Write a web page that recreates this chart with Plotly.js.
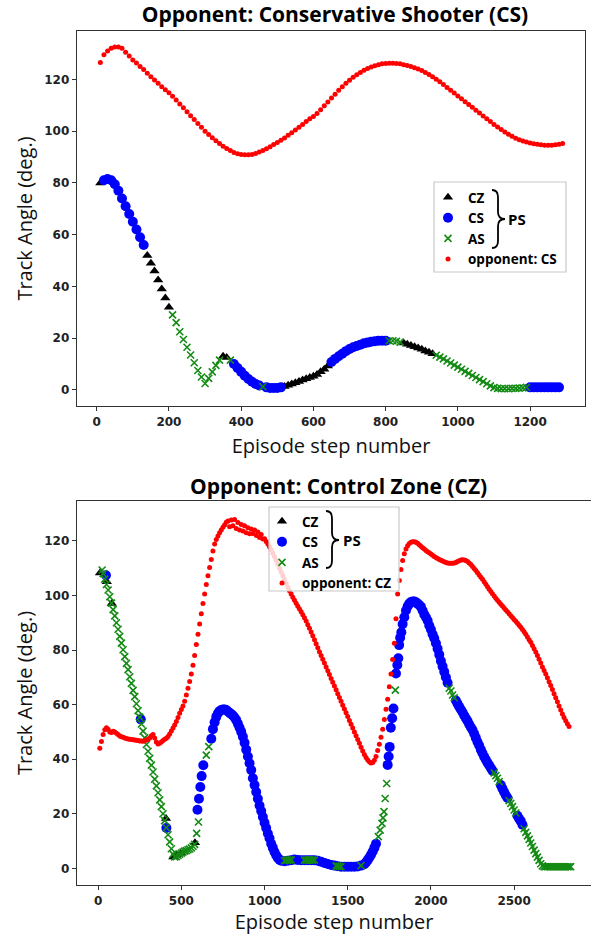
<!DOCTYPE html>
<html>
<head>
<meta charset="utf-8">
<script src="https://cdn.plot.ly/plotly-3.0.1.min.js"></script>
<style>html,body{margin:0;padding:0;background:#fff;}#chart{width:591px;height:937px;}</style>
</head>
<body>
<div id="chart"></div>
<script>
// ---------------- DATA ----------------
// Top panel: opponent Conservative Shooter (CS)
const topTitle = 'Opponent: Conservative Shooter (CS)';
const topOppName = 'opponent: CS';
const topOppStart = 10, topOppStep = 10;
const topOppY = [126.5,129.5,131,132,132.5,132.5,132,130.5,129,127.5,
 126.3,125,123.8,122.4,121,119.8,118.5,117.2,116,114.8,
 113.5,112,110.5,109,107.5,106,104.5,103,101.5,100,
 98.7,97.5,96.3,95.2,94.2,93.3,92.5,91.8,91.3,91,
 90.9,90.9,91,91.4,91.9,92.5,93.2,94,94.8,95.6,
 96.5,97.4,98.4,99.4,100.4,101.5,102.6,103.7,104.8,105.7,
 106.8,108.3,109.8,111.3,112.8,114.3,115.8,117.2,118.5,119.7,
 120.8,121.8,122.7,123.5,124.2,124.8,125.3,125.7,126,126.1,
 126.2,126.2,126.1,126,125.7,125.4,125,124.5,124,123.4,
 122.7,121.9,121,120.1,119.1,118,116.9,115.8,114.7,113.6,
 112.5,111.4,110.3,109.2,108.1,107,105.9,104.8,103.7,102.6,
 101.6,100.6,99.7,98.8,98,97.3,96.7,96.2,95.8,95.4,
 95.1,94.9,94.7,94.6,94.6,94.6,94.7,94.9,95.2];

const topCZx = [10,140,150,160,170,180,190,200,350,360,520,530,540,550,560,570,580,590,600,610,620,630,640,850,860,870,880,890,900,910,920,930];
const topCZy = [80,52,49,46,42.5,39,35.5,32,13,12.5,1.3,1.8,2.3,2.8,3.3,3.8,4.3,4.8,5.3,6,7,8,9.3,18.1,17.7,17.2,16.7,16.2,15.7,15.1,14.6,14];

const topCSx = [20,30,40,50,60,70,80,90,100,110,120,130,380,390,400,410,420,430,440,450,470,480,490,500,510,650,660,670,680,690,700,710,720,730,740,750,760,770,780,790,800,1200,1210,1220,1230,1240,1250,1260,1270,1280];
const topCSy = [81,81.5,81,79.5,77,74,71,68,65,62,59,56,10,8.5,7,5.5,4.2,3.2,2.3,1.7,1,0.8,0.8,0.8,1,10.8,12,13,14,15,15.8,16.5,17,17.5,18,18.3,18.6,18.8,19,19,19,1,1,1,1,1,1,1,1,1];

const topASx = [210,220,230,240,250,260,270,280,290,300,310,320,330,340,370,460,810,820,830,840,940,950,960,970,980,990,1000,1010,1020,1030,1040,1050,1060,1070,1080,1090,1100,1110,1120,1130,1140,1150,1160,1170,1180,1190];
const topASy = [29,26,22.5,19.5,16.5,13.5,10.5,7.5,5,2.5,4.5,7,9.5,11.5,11.5,1.3,19,19,18.8,18.5,13.4,12.7,12,11.2,10.4,9.6,8.8,8,7.2,6.4,5.6,4.8,4,3.2,2.4,1.6,0.9,0.6,0.5,0.5,0.5,0.6,0.6,0.7,0.8,1];

// Bottom panel: opponent Control Zone (CZ)
const botTitle = 'Opponent: Control Zone (CZ)';
const botOppName = 'opponent: CZ';
const botOppStart = 10, botOppStep = 10;
const botOppY = [44,46.5,49,50.8,51.5,51,50,49.8,50.2,50,
 49.5,49,48.5,48.2,48,47.8,47.6,47.4,47.3,47.2,
 47.1,47,46.9,46.8,46.7,46.7,46.6,46.8,47,47.3,
 47.8,48.6,49,47.8,46.3,45.6,45.8,46.3,46.8,47.3,
 47.7,48.3,49.2,50.3,51.4,52.5,53.8,55.3,56.8,58.2,
 59.5,61.2,63.5,66,68.5,71.2,74.4,78,82,85.8,
 89.5,93.3,97,100.5,104,107.2,110.2,113.2,116.3,118.8,
 120.5,121.8,123,124,125,125.8,126.8,127.3,125.2,127.6,
 125.5,127.8,124.5,126.7,124,126,123.6,125.5,123,124.8,
 122.6,124.3,122.7,124,122,123.2,121.2,122.3,120.7,120.8,
 119.8,118.8,117.8,116.7,115.5,114.2,112.8,111.4,110,108.6,
 107.2,105.8,104.4,103,101.7,100.5,99.3,98.2,97.1,96,
 95,94,92.9,91.8,90.6,89.3,88,86.6,85.2,83.8,
 82.3,80.8,79.4,78,76.6,75.2,73.8,72.4,71,69.6,
 68.2,66.8,65.4,64,62.6,61.2,59.8,58.4,57,55.6,
 54.2,52.8,51.4,50,48.6,47.2,45.8,44.4,43,41.7,
 40.6,39.7,39,38.6,38.8,39.6,41,43.2,45.5,48,
 51,54.5,58.3,62,66.5,71.2,76.5,82.5,91.5,100.5,
 105.5,109.5,112.8,115.3,117,118.2,119,119.5,119.7,119.7,
 119.5,119.1,118.6,118,117.5,117,116.5,116,115.6,115.2,
 114.7,114.3,113.9,113.5,113.2,112.9,112.6,112.3,112.1,111.9,
 111.8,111.8,111.8,111.9,112.1,112.4,112.7,113,113.1,113,
 112.8,112.4,111.9,111.3,110.6,109.9,109.1,108.3,107.5,106.7,
 105.9,105,104.1,103.2,102.3,101.4,100.6,99.8,99,98.2,
 97.5,96.8,96.1,95.4,94.7,94,93.3,92.6,91.9,91.2,
 90.5,89.8,89.1,88.3,87.5,86.7,85.8,84.8,83.8,82.8,
 81.7,80.5,79.3,78,76.6,75.2,73.8,72.5,71.2,69.8,
 68.4,67,65.5,64,62.5,61,59.5,58,56.6,55.3,
 54.1,53,52];

const botCZx = [11,52,82,408,452,470,496,582];
const botCZy = [108.2,105,97,18.3,4.2,4.8,5.5,9.4];

const botCSx = [47,256,410,597,606,614,622,632,680,
 690,700,710,720,730,740,750,760,770,780,790,800,810,820,830,840,850,860,870,880,890,900,910,920,930,940,950,960,970,980,990,1000,1010,1020,1030,1040,1050,1060,1070,1080,1090,
 1100,1120,1140,1160,1180,1200,1220,1240,1260,1280,1300,1320,1340,1360,1380,1400,1420,1440,1460,1480,1500,1520,1540,1560,1580,1600,1610,1620,1630,1640,1650,1660,1670,
 1740,1746,1752,1759,1767,1775,1790,1798,1804,1809,1815,1822,1830,1840,1850,1860,1870,1880,1890,1900,1910,1920,1930,1940,1950,1960,1970,1980,1990,2000,2010,2020,2030,2040,2050,2060,2070,2080,2090,2100,
 2150,2160,2170,2180,2190,2200,2210,2220,2230,2240,2250,2260,2270,2280,2290,2300,2310,2320,2330,2340,2350,2360,2370,
 2420,2430,2440,2450,2460,2520,2530,2540,2550];
const botCSy = [107.4,54.6,14.8,21.5,25.5,29.8,33.8,37.8,47.5,
 51,53.5,55.5,56.8,57.6,58,58.2,58.2,58,57.5,57,56.5,56,55.3,54.3,53,51.5,50,48.2,46,43.5,41,38.5,36,33,30.5,28,25.5,23,21,18.8,16.7,14.8,12.8,11,9,7.5,6,4.8,3.8,3.2,
 2.8,2.6,2.8,3,3.2,3.1,3,3,3,3,3,2.8,2.4,2,1.6,1.2,1,0.8,0.6,0.6,0.6,0.6,0.6,0.7,1,1.5,2.2,3,4,5,6.2,7.5,9,
 37.9,41,44.5,51.5,55,58.6,71.4,74.5,77,81.8,84.5,86.5,89.5,92,94.5,96,97,97.6,97.8,97.8,97.5,97,96.5,95.8,94.5,93,92,90.8,89,87.5,85.8,84.3,82.5,80.5,78.3,76,74,72,70,68,
 61.5,60.3,59.2,58.2,57.2,56,55,54,52.8,51.7,50.7,49.3,47.8,46.3,45,43.5,42.2,40.9,39.8,38.7,37.8,36.8,35.8,
 30.5,29.2,28,26.8,25.8,19.3,18.2,17.3,16];

const botASx = [24,30,40,50,60,70,80,90,100,110,120,130,140,150,160,170,180,190,200,210,220,230,240,250,260,270,280,290,300,310,320,330,340,350,360,370,380,390,400,410,420,430,440,450,
 460,470,480,490,500,510,520,530,540,550,560,570,580,592,603,650,665,
 1120,1130,1140,1150,1160,1240,1250,1260,1270,1280,1290,1300,1430,1440,1450,1460,1580,
 1684,1695,1706,1712,1718,1725,1734,1786,2110,2120,2130,2140,2380,2390,2400,2410,2470,2480,2490,2500,2510,
 2560,2570,2580,2590,2600,2610,2620,2630,2640,2650,2660,2670,2680,2690,2700,2710,2720,2730,2740,2750,2760,2770,2780,2790,2800,2810,2820,2830,2840];
const botASy = [109.3,108,106,104,102,99.5,97.2,94.8,92.5,90,87.6,85,82.5,80.1,77.6,75.1,72.8,70.2,67.8,65.2,62.9,60.3,57.8,55.4,52.9,50.3,47.8,45.4,42.9,40.3,37.8,35.3,32.7,30.2,27.7,25.1,22.6,20,17.5,14.9,12.3,9.7,7.2,5.2,
 4.2,4.3,4.7,5.2,5.6,6,6.3,6.5,6.8,7.1,7.5,8.1,8.8,12.8,17,41.5,44.6,
 2.8,3,3,3,3.1,3,3,3,3.1,3,3,3,0.9,0.8,0.7,0.6,1,
 11.6,14,16.5,18.5,20.8,25.6,31.1,65.3,66,65,63.5,62.5,35,34,33,31.8,24.8,23.8,22.6,21.4,20.3,
 14.5,13.2,11.9,10.6,9.3,8,6.7,5.4,4.1,2.9,1.7,0.9,0.6,0.6,0.6,0.6,0.6,0.6,0.6,0.6,0.6,0.6,0.6,0.6,0.6,0.6,0.6,0.6,0.6];

const modeNames = ['CZ','CS','AS'];
const xTitle = 'Episode step number';
const yTitle = 'Track Angle (deg.)';

// ---------------- STYLE / LAYOUT ----------------
const W = 591, H = 937, ML = 77;
const PX = px => (px - ML) / (W - ML);
const PY = py => 1 - py / H;

const sty = {
  CZ: {symbol:'triangle-up', size:9, color:'#000000'},
  CS: {symbol:'circle', size:10, color:'#0000ff'},
  AS: {symbol:'x-thin', size:7, color:'#138a13', line:{color:'#138a13', width:1.6}},
  OPP: {symbol:'circle', size:5, color:'#ff0000'}
};

function tr(x, y, name, st, xa, ya, leg) {
  return {type:'scatter', mode:'markers', x:x, y:y, name:name, marker:st,
          xaxis:xa, yaxis:ya, legend:leg, showlegend:true, hoverinfo:'skip'};
}
function oppTr(x0, dx, y, name, xa, ya, leg) {
  return {type:'scatter', mode:'markers', x0:x0, dx:dx, y:y, name:name, marker:sty.OPP,
          xaxis:xa, yaxis:ya, legend:leg, showlegend:true, hoverinfo:'skip'};
}

const data = [
  tr(topCZx, topCZy, modeNames[0], sty.CZ, 'x', 'y', 'legend'),
  tr(topCSx, topCSy, modeNames[1], sty.CS, 'x', 'y', 'legend'),
  tr(topASx, topASy, modeNames[2], sty.AS, 'x', 'y', 'legend'),
  oppTr(topOppStart, topOppStep, topOppY, topOppName, 'x', 'y', 'legend'),
  tr(botCZx, botCZy, modeNames[0], sty.CZ, 'x2', 'y2', 'legend2'),
  tr(botCSx, botCSy, modeNames[1], sty.CS, 'x2', 'y2', 'legend2'),
  tr(botASx, botASy, modeNames[2], sty.AS, 'x2', 'y2', 'legend2'),
  oppTr(botOppStart, botOppStep, botOppY, botOppName, 'x2', 'y2', 'legend2')
];

const tickFont = {family:'DejaVu Sans', size:12, color:'#222', weight:'bold'};
const titleFont = {family:'Open Sans', size:20, color:'#111'};
function axis(extra) {
  return Object.assign({showline:true, linecolor:'#333', linewidth:1.3, showgrid:false, zeroline:false,
    ticks:'outside', ticklen:4, tickwidth:1, tickcolor:'#333', tickfont:tickFont}, extra);
}

const legendBase = {xanchor:'left', yanchor:'top', bgcolor:'rgba(0,0,0,0)', bordercolor:'rgba(0,0,0,0)',
  borderwidth:0, font:{family:'Open Sans', size:13.5, color:'#000', weight:'bold'}, tracegroupgap:0};

function bracePath(xl, xb, xt, yt, ym, yb) {
  const r = 7;
  return 'M' + PX(xl) + ',' + PY(yt) +
    ' Q' + PX(xb) + ',' + PY(yt) + ' ' + PX(xb) + ',' + PY(yt + r) +
    ' L' + PX(xb) + ',' + PY(ym - r) +
    ' Q' + PX(xb) + ',' + PY(ym) + ' ' + PX(xt) + ',' + PY(ym) +
    ' Q' + PX(xb) + ',' + PY(ym) + ' ' + PX(xb) + ',' + PY(ym + r) +
    ' L' + PX(xb) + ',' + PY(yb - r) +
    ' Q' + PX(xb) + ',' + PY(yb) + ' ' + PX(xl) + ',' + PY(yb);
}
function box(x0, y0, x1, y1) {
  return {type: 'rect', xref: 'paper', yref: 'paper', layer: 'above',
    x0: PX(x0), x1: PX(x1), y0: PY(y1), y1: PY(y0),
    fillcolor: 'rgba(255,255,255,0.82)', line: {color: '#c8c8c8', width: 1.2}};
}

const layout = {
  width: W, height: H,
  margin: {l: ML, r: 0, t: 0, b: 0, pad: 0},
  paper_bgcolor: '#ffffff', plot_bgcolor: '#ffffff',
  title: {text: '<b>' + topTitle + '</b>', x: 335 / W, xanchor: 'center', y: PY(15), yanchor: 'middle',
          font: {family: 'Open Sans', size: 21, color: '#000'}},
  xaxis: axis({domain: [0, PX(585)], range: [-54.6, 1352], dtick: 200, tick0: 0, anchor: 'y', mirror: true,
               title: {text: xTitle, font: titleFont, standoff: 11}}),
  yaxis: axis({domain: [PY(406), PY(31)], range: [-6.2, 138.7], dtick: 20, tick0: 0, anchor: 'x', mirror: true,
               title: {text: yTitle, font: titleFont, standoff: 6}}),
  xaxis2: axis({domain: [0, 1], range: [-127, 2962], dtick: 500, tick0: 0, anchor: 'y2', mirror: true,
               title: {text: xTitle, font: titleFont, standoff: 6}}),
  yaxis2: axis({domain: [PY(885), PY(501)], range: [-6.1, 134.6], dtick: 20, tick0: 0, anchor: 'x2', mirror: false,
               title: {text: yTitle, font: titleFont, standoff: 6}}),
  legend: Object.assign({x: PX(428), y: PY(182)}, legendBase),
  legend2: Object.assign({x: PX(262), y: PY(506)}, legendBase),
  shapes: [
    box(434, 182, 566, 272),
    box(269, 507, 399, 591),
    {type: 'path', xref: 'paper', yref: 'paper', layer: 'above', path: bracePath(492, 498, 505, 190, 219, 248),
     line: {color: '#000', width: 1.8}},
    {type: 'path', xref: 'paper', yref: 'paper', layer: 'above', path: bracePath(326, 332, 339, 511, 540, 568),
     line: {color: '#000', width: 1.8}}
  ],
  annotations: [
    {xref: 'paper', yref: 'paper', x: PX(338), y: PY(486), xanchor: 'center', yanchor: 'middle', showarrow: false,
     text: '<b>' + botTitle + '</b>', font: {family: 'Open Sans', size: 21, color: '#000'}},
    {xref: 'paper', yref: 'paper', x: PX(506), y: PY(219), xanchor: 'left', yanchor: 'middle', showarrow: false,
     text: '<b>PS</b>', font: {family: 'Open Sans', size: 15, color: '#000'}},
    {xref: 'paper', yref: 'paper', x: PX(341), y: PY(540), xanchor: 'left', yanchor: 'middle', showarrow: false,
     text: '<b>PS</b>', font: {family: 'Open Sans', size: 15, color: '#000'}}
  ]
};

Plotly.newPlot('chart', data, layout, {staticPlot: true, displayModeBar: false});
</script>
</body>
</html>
